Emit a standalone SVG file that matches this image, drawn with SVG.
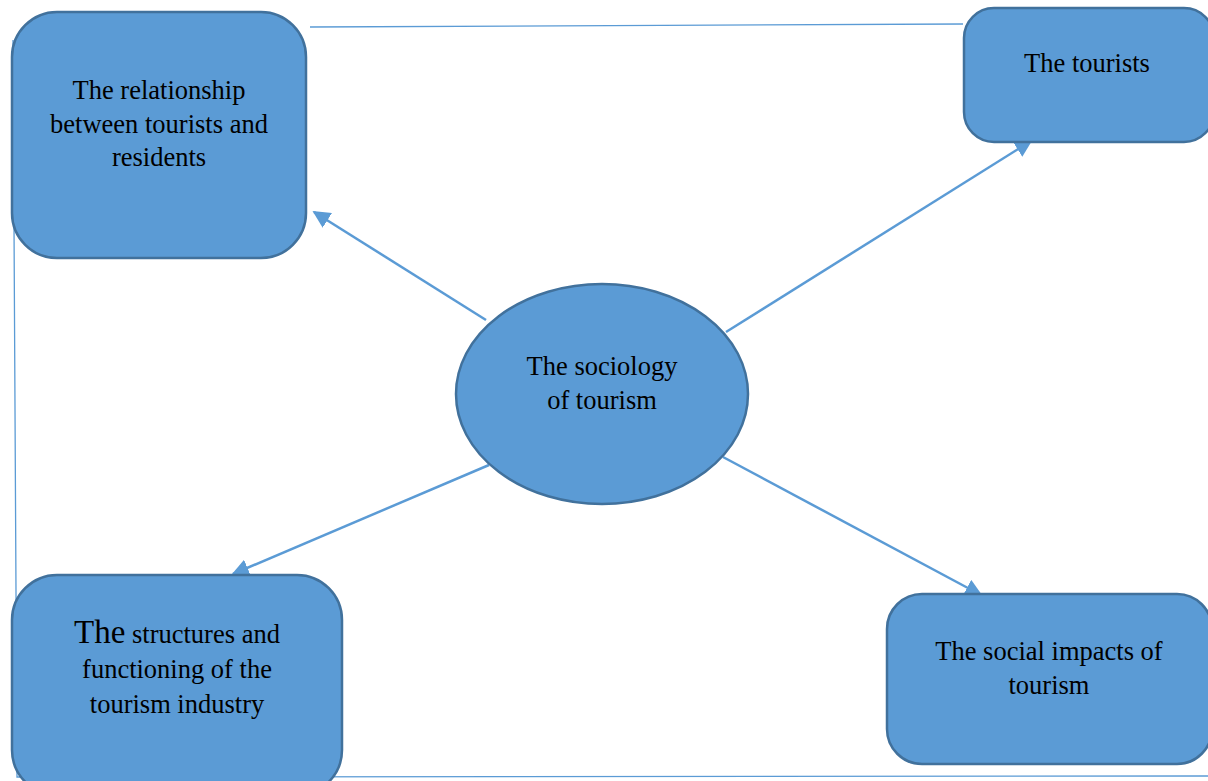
<svg xmlns="http://www.w3.org/2000/svg" width="1208" height="781" viewBox="0 0 1208 781">
<style>
.node{fill:#5b9bd5;stroke:#41719c;stroke-width:2.5}
.t{font-family:"Liberation Serif","Times New Roman",serif;font-size:26.5px;fill:#000;text-anchor:middle}
.frame{fill:none;stroke:#5b9bd5;stroke-width:1.3}
.conn{stroke:#5b9bd5;stroke-width:2.5;fill:none;marker-end:url(#ah)}
</style>
<defs>
<marker id="ah" viewBox="0 0 10 10" refX="9" refY="5" markerWidth="7" markerHeight="7" orient="auto" markerUnits="strokeWidth">
<path d="M0,0 L10,5 L0,10 z" fill="#5b9bd5"/>
</marker>
</defs>
<rect width="1208" height="781" fill="#fff"/>
<g id="frame">
<polyline class="frame" points="310,27 963,24"/>
<polyline class="frame" points="13,40 17,777 1208,776"/>
</g>
<g id="connectors">
<line class="conn" x1="486" y1="320" x2="314" y2="212"/>
<line class="conn" x1="726" y1="332" x2="1031" y2="141"/>
<line class="conn" x1="489" y1="465" x2="233" y2="574"/>
<line class="conn" x1="723" y1="457" x2="981" y2="595"/>
</g>
<g id="n-relationship">
<rect class="node" x="12" y="12" width="294" height="246" rx="45"/>
<text class="t" x="159" y="99">The relationship</text>
<text class="t" x="159" y="133">between tourists and</text>
<text class="t" x="159" y="166">residents</text>
</g>
<g id="n-tourists">
<rect class="node" x="964" y="8" width="250" height="134" rx="30"/>
<text class="t" x="1087" y="72">The tourists</text>
</g>
<g id="n-structures">
<rect class="node" x="12" y="575" width="330" height="220" rx="45"/>
<text class="t" x="177" y="643"><tspan font-size="33">The</tspan> structures and</text>
<text class="t" x="177" y="678">functioning of the</text>
<text class="t" x="177" y="713">tourism industry</text>
</g>
<g id="n-impacts">
<rect class="node" x="887" y="594" width="325" height="170" rx="35"/>
<text class="t" x="1049" y="660">The social impacts of</text>
<text class="t" x="1049" y="694">tourism</text>
</g>
<g id="n-center">
<ellipse class="node" cx="602" cy="394" rx="146" ry="110"/>
<text class="t" x="602" y="375">The sociology</text>
<text class="t" x="602" y="409">of tourism</text>
</g>
</svg>
